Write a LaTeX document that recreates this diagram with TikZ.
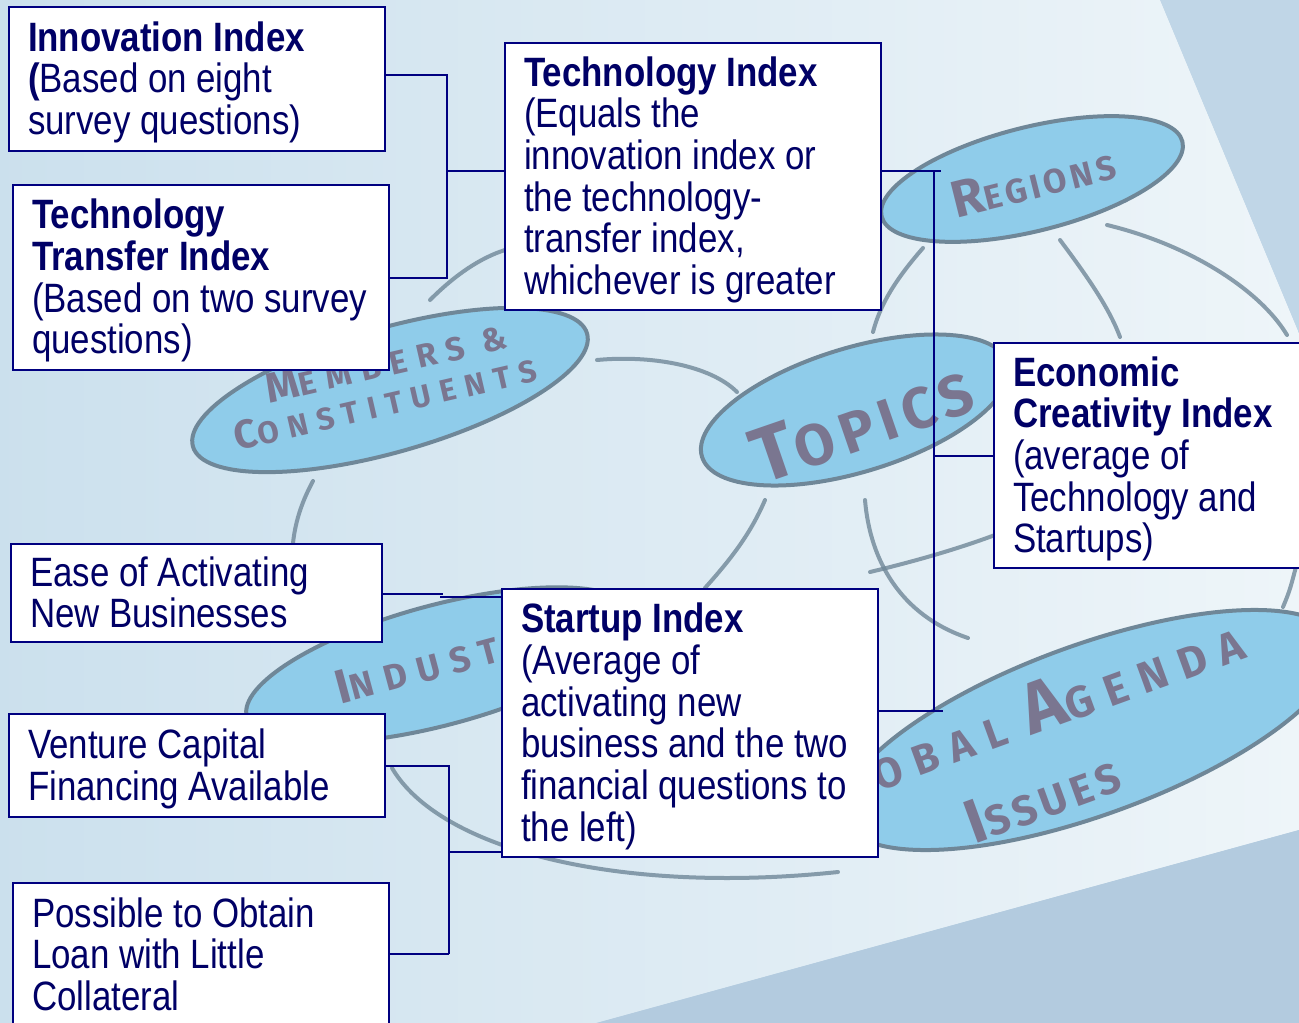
\documentclass[tikz,border=0pt]{standalone}
\usepackage{fontspec}
\setmainfont{Liberation Sans}[FakeStretch=0.85]
\newfontfamily\handfont{Fira Sans}[LetterSpace=12]
\newfontfamily\handwide{Fira Sans}[LetterSpace=30]
\usetikzlibrary{calc}
\definecolor{boxline}{HTML}{000080}
\definecolor{boxtext}{HTML}{000066}
\definecolor{bgblue}{HTML}{C3D9E9}
\definecolor{paperL}{HTML}{CBE0ED}
\definecolor{paperR}{HTML}{EEF5F9}
\definecolor{shadeR}{HTML}{C0D6E7}
\definecolor{shadeB}{HTML}{B3CBDF}
\definecolor{ellfill}{HTML}{8FCCEA}
\definecolor{sketch}{HTML}{6F8798}
\definecolor{hand}{HTML}{7A7690}
\newcommand{\boxlines}[2]{\raisebox{-5pt}[\height][\depth]{\makebox[#1][l]{\begin{tabular}{@{}l@{}}#2\end{tabular}}}}
\newcommand{\hbig}[2]{{\fontsize{#1}{#1}\selectfont #2}}
\begin{document}
\begin{tikzpicture}[x=1pt,y=-1pt,
  ibox/.style={draw=boxline, line width=2pt, fill=white, inner sep=0pt, anchor=north west, text=boxtext, font=\fontsize{41}{39.8}\selectfont},
  conn/.style={draw=boxline, line width=2pt},
  sk/.style={draw=sketch, line width=4pt, line cap=round, opacity=0.8},
  bubble/.style={fill=ellfill, draw=sketch, line width=4pt},
  hw/.style={text=hand, font=\handfont\bfseries, inner sep=0pt, align=center},
  hwide/.style={hw, font=\handwide\bfseries}
]
\useasboundingbox (0,0) rectangle (1299,1023);
\clip (0,0) rectangle (1299,1023);
% background
\fill[bgblue] (0,0) rectangle (1299,1023);
\shade[left color=paperL, right color=paperR] (-10,-10) -- (1156,-10) -- (1299,333) -- (1299,830) -- (560,1033) -- (-10,1033) -- cycle;
\fill[shadeR] (1156,-10) -- (1299,-10) -- (1299,333) -- cycle;
\fill[shadeB] (560,1033) -- (1299,830) -- (1299,1033) -- cycle;
% sketch lines
\draw[sk] (923,248) .. controls (895,280) and (880,305) .. (873,332);
\draw[sk] (1060,240) .. controls (1090,280) and (1110,310) .. (1120,337);
\draw[sk] (1107,225) .. controls (1190,245) and (1260,290) .. (1287,335);
\draw[sk] (430,300) .. controls (455,275) and (480,258) .. (505,250);
\draw[sk] (597,360) .. controls (650,355) and (710,365) .. (737,392);
\draw[sk] (313,481) .. controls (300,505) and (295,525) .. (293,543);
\draw[sk] (765,500) .. controls (750,535) and (730,560) .. (705,588);
\draw[sk] (865,500) .. controls (870,560) and (900,615) .. (968,638);
\draw[sk] (870,572) .. controls (920,560) and (960,548) .. (995,535);
\draw[sk] (1283,607) .. controls (1290,590) .. (1299,555);
\draw[sk] (392,768) .. controls (440,850) and (620,895) .. (838,872);
% bubbles
\draw[bubble, rotate around={14:(1032,179)}] (1032,179) ellipse [x radius=155pt, y radius=52pt];
\draw[bubble, rotate around={17:(855,410)}] (855,410) ellipse [x radius=160pt, y radius=62pt];
\draw[bubble, rotate around={16:(390,390)}] (390,390) ellipse [x radius=205pt, y radius=62pt];
\draw[bubble, rotate around={15:(440,665)}] (440,665) ellipse [x radius=200pt, y radius=60pt];
\draw[bubble, rotate around={20:(1090,730)}] (1090,730) ellipse [x radius=262pt, y radius=85pt];
% handwritten labels (visible parts)
\node[hw, rotate=14] (lreg) at (1033,181) {\hbig{52}{R}\hbig{34}{EGIONS}};
\node[hw, rotate=19] (ltop) at (862,422) {\hbig{78}{T}\hbig{58}{OPICS}};
\node[hwide, rotate=13] (lmem1) at (386,362) {\hbig{42}{M}\hbig{33}{EMBERS \&}};
\node[hwide, rotate=13] (lmem2) at (385,402) {\hbig{40}{C}\hbig{31}{ONSTITUENTS}};
\node[hwide, rotate=15, anchor=south east] (lind) at (502,662) {\hbig{48}{I}\hbig{36}{NDUST}};
\node[hwide, rotate=20, anchor=south west] (lglob) at (880,792) {\hbig{42}{OBAL }\hbig{72}{A}\hbig{44}{GENDA}};
\node[hw, rotate=20] (liss) at (1042,797) {\hbig{62}{I}\hbig{42}{SSUES}};
% index boxes
\node[ibox, minimum width=376pt, minimum height=144pt] (inno) at (8,6)
  {\boxlines{338pt}{\textbf{Innovation Index}\\\textbf{(}Based on eight\\survey questions)}};
\node[ibox, minimum width=376pt, minimum height=185pt] (ttrans) at (12,184)
  {\boxlines{338pt}{\textbf{Technology}\\\textbf{Transfer Index}\\(Based on two survey\\questions)}};
\node[ibox, minimum width=376pt, minimum height=267pt] (tech) at (504,42)
  {\boxlines{338pt}{\textbf{Technology Index}\\(Equals the\\innovation index or\\the technology-\\transfer index,\\whichever is greater}};
\node[ibox, minimum width=340pt, minimum height=225pt] (econ) at (993,342)
  {\boxlines{302pt}{\textbf{Economic}\\\textbf{Creativity Index}\\(average of\\Technology and\\Startups)}};
\node[ibox, minimum width=371pt, minimum height=98pt] (ease) at (10,543)
  {\boxlines{333pt}{Ease of Activating\\New Businesses}};
\node[ibox, minimum width=376pt, minimum height=103pt] (vent) at (8,713)
  {\boxlines{338pt}{Venture Capital\\Financing Available}};
\node[ibox, minimum width=376pt, minimum height=144pt] (poss) at (12,882)
  {\boxlines{338pt}{Possible to Obtain\\Loan with Little\\Collateral}};
\node[ibox, minimum width=376pt, minimum height=268pt] (start) at (501,588)
  {\boxlines{338pt}{\textbf{Startup Index}\\(Average of\\activating new\\business and the two\\financial questions to\\the left)}};
% connectors
\coordinate (jL) at (447,171);
\draw[conn] ([yshift=4pt]inno.east) -| (jL) |- (ttrans.east);
\draw[conn] (jL) -- (jL -| tech.west);
\coordinate (rTop) at (934,171);
\coordinate (rBot) at (934,711);
\draw[conn] (rTop -| tech.east) -- ([xshift=7pt]rTop);
\draw[conn] (rBot -| start.east) -- ([xshift=9pt]rBot);
\draw[conn] (rTop) -- (rBot);
\draw[conn] (rTop |- econ.west) -- (econ.west);
\coordinate (jB) at (449,852);
\draw[conn] (vent.east) -| (jB) |- (jB |- 0,954);
\draw[conn] (jB |- 0,954) -- (poss.east |- 0,954);
\draw[conn] (jB) -- (jB -| start.west);
\coordinate (ej1) at (443,594);
\coordinate (ej2) at (440,597);
\draw[conn] (ease.east |- ej1) -- (ej1);
\draw[conn] (ej2) -- (ej2 -| start.west);
\end{tikzpicture}
\end{document}
